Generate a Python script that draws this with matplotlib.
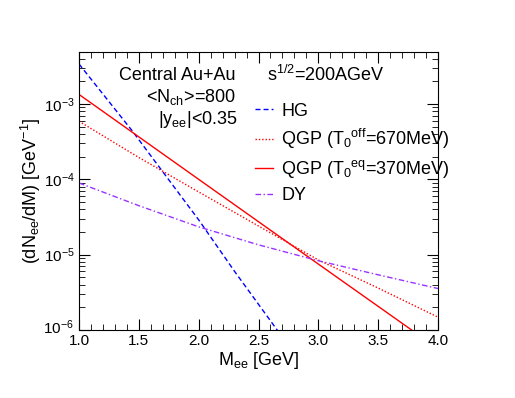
import matplotlib
matplotlib.use("Agg")
import matplotlib.pyplot as plt
import matplotlib.transforms as mtransforms
from matplotlib.ticker import MultipleLocator, LogLocator, NullFormatter

plt.rcParams['font.family'] = ['Liberation Sans', 'DejaVu Sans']
plt.rcParams['mathtext.default'] = 'regular'
plt.rcParams['axes.unicode_minus'] = False

# dilepton mass spectra
m_hg = [1.0, 1.44, 2.0, 2.3, 2.7]
y_hg = [3.4e-3, 4.5e-4, 2.9e-5, 6.0e-6, 8.0e-7]

m_qgp_off = [1.0, 1.5, 2.0, 2.5, 3.0, 3.5, 4.0]
y_qgp_off = [5.9e-4, 1.95e-4, 6.8e-5, 2.4e-5, 8.5e-6, 3.6e-6, 1.48e-6]

m_qgp_eq = [1.0, 2.0, 3.0, 4.0]
y_qgp_eq = [1.34e-3, 1.0e-4, 7.5e-6, 5.65e-7]

m_dy = [1.0, 1.5, 2.0, 2.5, 3.0, 3.5, 4.0]
y_dy = [8.95e-5, 4.47e-5, 2.34e-5, 1.35e-5, 8.3e-6, 5.4e-6, 3.55e-6]

fig = plt.figure(figsize=(5.15, 3.98), dpi=100)
ax = fig.add_axes([0.1534, 0.1709, 0.6971, 0.6984])

ax.plot(m_hg, y_hg, color='#0000ff', lw=1.0, dashes=(3.6, 2.2), label='HG')
ax.plot(m_qgp_off, y_qgp_off, color='#ff0000', lw=1.0, dashes=(1, 1.4),
        label='QGP (T$_0$$^{off}$=670MeV)')
ax.plot(m_qgp_eq, y_qgp_eq, color='#ff0000', lw=1.0,
        label='QGP (T$_0$$^{eq}$=370MeV)')
ax.plot(m_dy, y_dy, color='#9933ff', lw=1.0, dashes=(4, 1.8, 1, 1.8), label='DY')

ax.set_yscale('log')
ax.set_xlim(1.0, 4.0)
ax.set_ylim(1e-6, 4.9e-3)

ax.xaxis.set_major_locator(MultipleLocator(0.5))
ax.xaxis.set_minor_locator(MultipleLocator(0.1))
ax.yaxis.set_major_locator(LogLocator(base=10, numticks=10))
ax.yaxis.set_minor_locator(LogLocator(base=10, subs=range(2, 10), numticks=20))
ax.yaxis.set_minor_formatter(NullFormatter())
ax.tick_params(which='both', direction='in', top=True, right=True, labelsize=11, pad=3)
ax.tick_params(which='major', length=8)
ax.tick_params(which='minor', length=4)

ax.set_xlabel('M$_{ee}$ [GeV]', fontsize=13, labelpad=1)
ax.set_ylabel('(dN$_{ee}$/dM) [GeV$^{-1}$]', fontsize=13, labelpad=0)

ax.text(0.437, 0.899, 'Central Au+Au', transform=ax.transAxes, fontsize=13, ha='right', va='baseline')
ax.text(0.437, 0.820, '<N$_{ch}$>=800', transform=ax.transAxes, fontsize=13, ha='right', va='baseline')
ax.text(0.442, 0.741, '|y$_{ee}$|<0.35', transform=ax.transAxes, fontsize=13, ha='right', va='baseline')
ax.text(0.523, 0.896, 's$^{1/2}$=200AGeV', transform=ax.transAxes, fontsize=13, ha='left', va='baseline')

ax.legend(loc='upper left', bbox_to_anchor=(0.49, 0.818), frameon=False, fontsize=13,
          handlelength=1.0, handletextpad=0.45, labelspacing=0.4,
          borderpad=0, borderaxespad=0)

# nudge the bottom y label up a little so it clears the "1.0" label
fig.canvas.draw()
lift = mtransforms.ScaledTranslation(-1 / 72, 3 / 72, fig.dpi_scale_trans)
for tick in ax.yaxis.get_major_ticks():
    if abs(tick.get_loc() - 1e-6) < 1e-9:
        tick.label1.set_transform(tick.label1.get_transform() + lift)

fig.savefig('out.png', dpi=100)
